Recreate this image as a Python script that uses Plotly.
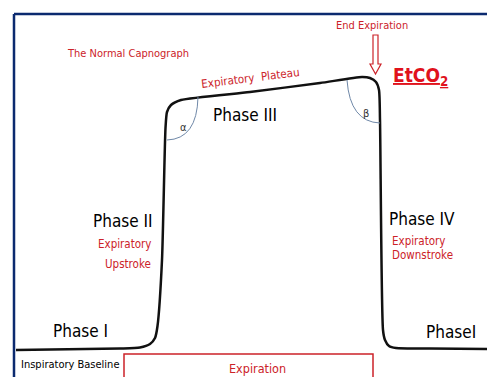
import plotly.graph_objects as go

# Capnograph trace (x = time position, y = screen height position)
time_pts = [16, 120, 140, 150, 155, 157.5, 162, 165.5, 167, 171, 181, 250, 320, 362, 370, 376, 379, 380, 383, 385, 389, 396, 430, 487]
co2_pts = [350, 348.5, 347.5, 344, 338, 326, 260, 128, 112, 105, 100, 92, 83, 77, 78, 82, 90, 120, 330, 340, 346, 348, 348.5, 349]

red = "#cc2229"
navy = "#0b2a6f"
font_fam = "DejaVu Sans Condensed, Liberation Sans Narrow, sans-serif"

fig = go.Figure()
fig.add_trace(go.Scatter(x=time_pts, y=co2_pts, mode="lines",
                         line=dict(color="#111111", width=2.5, shape="spline", smoothing=0.6),
                         hoverinfo="skip", showlegend=False))

shapes = [
    # frame
    dict(type="line", x0=14, x1=490, y0=14, y1=14, line=dict(color=navy, width=2.5)),
    dict(type="line", x0=14, x1=14, y0=14, y1=380, line=dict(color=navy, width=2.5)),
    # angle arcs
    dict(type="path", path="M 198,97 Q 197,139 167,140", line=dict(color="#6f88a8", width=1)),
    dict(type="path", path="M 347,80 Q 350,122 380,123", line=dict(color="#6f88a8", width=1)),
    # expiration box
    dict(type="rect", x0=124, x1=373, y0=354, y1=385, line=dict(color=red, width=1.5)),
    # hollow arrow
    dict(type="path", path="M 373,35 L 378,35 L 378,64 L 381,64 L 375.5,74 L 370,64 L 373,64 Z",
         line=dict(color=red, width=1.2), fillcolor="rgba(0,0,0,0)"),
]
for s in shapes:
    s.update(xref="x", yref="y", layer="above")

def ann(text, x, y, size, color="black", xanchor="center", angle=0):
    return dict(text=text, x=x, y=y, xref="x", yref="y", showarrow=False,
                xanchor=xanchor, yanchor="middle", textangle=angle,
                font=dict(family=font_fam, size=size, color=color))

annotations = [
    ann("The Normal Capnograph", 128, 53, 11, red),
    ann("End Expiration", 372, 25, 11, red),
    ann("<u><b>EtCO<sub>2</sub></b></u>", 420, 76, 19, "#e0121c"),
    ann("Expiratory  Plateau", 250, 78, 11.5, red, angle=-7),
    ann("Phase III", 245, 115, 17),
    ann("α", 183, 127, 11, "#333333"),
    ann("β", 366, 113, 11, "#333333"),
    ann("Phase II", 155, 221, 17, xanchor="right"),
    ann("Expiratory", 153, 244, 11.5, red, xanchor="right"),
    ann("Upstroke", 153, 264, 11.5, red, xanchor="right"),
    ann("Phase IV", 387, 219, 17, xanchor="left"),
    ann("Expiratory", 390, 241, 11.5, red, xanchor="left"),
    ann("Downstroke", 390, 255, 11.5, red, xanchor="left"),
    ann("Phase I", 80, 331, 17),
    ann("PhaseI", 451, 332, 17),
    ann("Inspiratory Baseline", 70, 364, 11),
    ann("Expiration", 257, 368, 12.5, red),
]

fig.update_layout(
    width=487, height=377, margin=dict(l=0, r=0, t=0, b=0),
    paper_bgcolor="white", plot_bgcolor="white",
    xaxis=dict(range=[0, 487], visible=False, fixedrange=True),
    yaxis=dict(range=[377, 0], visible=False, fixedrange=True),
    shapes=shapes, annotations=annotations,
)
fig.write_html("out.html", config={"displayModeBar": False},
               post_script="document.body.style.margin='0px';")
